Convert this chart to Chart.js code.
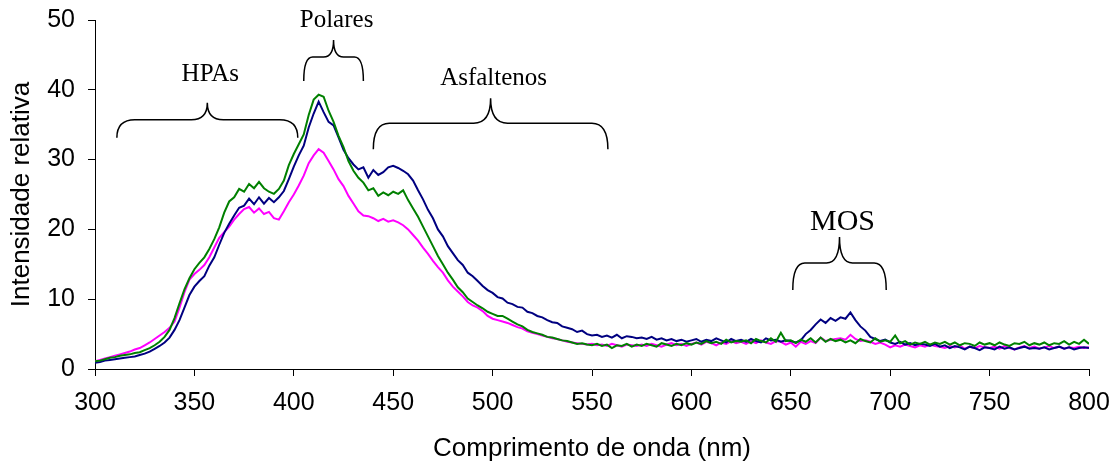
<!DOCTYPE html>
<html>
<head>
<meta charset="utf-8">
<script src="https://cdn.jsdelivr.net/npm/chart.js@4.4.0/dist/chart.umd.min.js"></script>
<style>
    body { margin: 0; background: #ffffff; }
    #spectraChart { display: block; }
</style>
</head>
<body>
<canvas id="spectraChart" width="1116" height="464"></canvas>
<script>
// wavelength grid: 300..800 nm, every 2.5 nm
const startNm = 300;
const stepNm = 2.5;

const navySeries = [
    0.9, 1.0, 1.2, 1.3, 1.4, 1.5, 1.6, 1.7, 1.8, 2.0,
    2.2, 2.5, 2.9, 3.3, 3.8, 4.5, 5.6, 7.0, 8.8, 10.6,
    11.8, 12.6, 13.3, 14.8, 16.0, 17.8, 19.5, 20.8, 22.0, 23.1,
    23.4, 24.4, 23.6, 24.6, 23.7, 24.5, 23.9, 24.6, 25.5, 27.2,
    29.0, 30.6, 32.0, 34.6, 36.6, 38.3, 36.8, 35.4, 34.9, 33.2,
    31.4, 30.2, 29.3, 28.6, 28.9, 27.4, 28.5, 27.8, 28.2, 28.9,
    29.1, 28.8, 28.4, 27.9, 27.0, 25.6, 24.3, 22.8, 21.6, 20.0,
    19.0, 17.6, 16.6, 15.6, 14.9, 13.8, 13.3, 12.6, 11.9, 11.3,
    10.9, 10.3, 10.1, 9.5, 9.3, 8.9, 8.8, 8.2, 8.0, 7.6,
    7.4, 7.0, 6.7, 6.6, 6.1, 5.9, 5.7, 5.3, 5.5, 5.0,
    4.8, 4.9, 4.6, 4.8, 4.5, 4.9, 4.4, 4.7, 4.6, 4.4,
    4.5, 4.3, 4.6, 4.2, 4.4, 4.1, 4.3, 4.0, 4.2, 3.9,
    4.1, 4.3, 3.9, 4.2, 4.0, 4.4, 4.1, 3.8, 4.3, 4.0,
    4.2, 3.9, 4.3, 4.0, 3.8, 4.4, 4.1, 4.2, 3.9, 4.1,
    4.0, 3.8, 4.1, 5.0, 5.6, 6.4, 7.1, 6.6, 7.3, 6.9,
    7.4, 7.2, 8.1, 7.0, 6.1, 5.5, 4.6, 4.3, 4.0, 4.2,
    3.8, 3.6, 3.9, 3.5, 3.7, 3.4, 3.6, 3.5, 3.3, 3.6,
    3.2, 3.4, 3.0, 3.3, 3.1, 2.8, 3.2, 3.0, 2.7, 3.1,
    3.0, 2.8, 3.2, 2.9, 3.1, 2.8, 3.0, 3.2, 2.9, 3.0,
    2.9, 3.1, 2.8, 3.0, 3.2, 2.9, 3.1, 2.8, 3.0, 3.1,
    3.0
];

const greenSeries = [
    1.1, 1.2, 1.4, 1.6, 1.7, 1.9, 2.0, 2.1, 2.3, 2.4,
    2.7, 3.0, 3.4, 3.9, 4.6, 5.6, 7.3, 9.4, 11.4, 13.0,
    14.3, 15.2, 16.0, 17.2, 18.6, 20.3, 22.4, 24.0, 24.6, 25.8,
    25.4, 26.5, 25.9, 26.8, 25.9, 25.4, 25.1, 25.8, 27.0, 29.2,
    30.8, 32.2, 33.6, 36.4, 38.6, 39.3, 39.0, 37.0, 35.4, 33.4,
    31.8, 29.8, 28.4, 27.4, 26.7, 25.6, 25.9, 24.8, 25.3, 24.9,
    25.4, 25.1, 25.6, 24.2, 23.0, 21.8, 20.4, 19.0, 17.6, 16.2,
    15.0, 13.8, 12.8, 11.7, 11.0, 10.1, 9.6, 9.1, 8.7, 8.2,
    7.9, 7.6, 7.6, 7.2, 6.8, 6.4, 6.1, 5.6, 5.3, 5.1,
    4.9, 4.6, 4.5, 4.3, 4.1, 4.0, 3.8, 3.6, 3.7, 3.5,
    3.4, 3.6, 3.3, 3.5, 3.0, 3.4, 3.3, 3.6, 3.2, 3.5,
    3.3, 3.6, 3.4, 3.2, 3.7, 3.5, 3.3, 3.6, 3.4, 3.7,
    3.5, 3.8, 3.6, 4.0, 3.7, 3.9, 3.6, 4.2, 3.8, 4.0,
    3.9, 4.1, 3.7, 4.3, 4.0, 3.8, 4.4, 3.9, 5.2, 4.0,
    4.1, 3.7, 4.2, 3.9, 4.4, 3.8, 4.5, 3.9, 4.3, 4.0,
    4.2, 3.8, 4.1, 3.7, 4.3, 4.0, 3.8, 4.4, 3.9, 4.1,
    3.9, 4.8, 3.7, 4.0, 3.5, 3.8, 3.6, 3.9, 3.5, 3.8,
    3.6, 3.9, 3.5, 3.8, 3.4, 3.7, 3.6, 3.3, 3.8, 3.5,
    3.7, 3.4, 3.8, 3.5, 3.3, 3.7, 3.6, 3.9, 3.4, 3.7,
    3.5, 3.8, 3.4, 3.7, 3.6, 4.0, 3.5, 3.9, 3.6, 4.2,
    3.6
];

const magentaSeries = [
    1.1, 1.3, 1.5, 1.7, 1.9, 2.1, 2.3, 2.5, 2.8, 3.0,
    3.4, 3.8, 4.3, 4.8, 5.3, 5.9, 6.8, 8.8, 11.0, 12.8,
    13.6, 14.2, 14.9, 16.0, 17.4, 18.8, 19.6, 20.4, 21.4, 22.2,
    22.9, 23.2, 22.4, 23.0, 22.2, 22.5, 21.6, 21.4, 22.6, 23.9,
    25.0, 26.3, 27.7, 29.5, 30.6, 31.5, 31.0, 29.8, 28.6, 27.2,
    26.2, 24.8, 23.7, 22.6, 22.0, 21.9, 21.6, 21.2, 21.5, 21.1,
    21.3, 21.0, 20.6, 20.0, 19.2, 18.4, 17.4, 16.5, 15.5, 14.6,
    13.8, 12.7, 11.8, 11.1, 10.4, 9.6, 9.1, 8.8, 8.3, 7.6,
    7.2, 7.0, 6.8, 6.6, 6.3, 6.0, 5.8, 5.4, 5.2, 5.0,
    4.8, 4.6, 4.4, 4.3, 4.1, 3.9, 3.8, 3.7, 3.6, 3.5,
    3.6, 3.4, 3.5, 3.3, 3.6, 3.4, 3.2, 3.5, 3.4, 3.3,
    3.5, 3.3, 3.6, 3.4, 3.2, 3.5, 3.7, 3.4, 3.6, 3.3,
    3.6, 3.8, 3.5, 3.9, 3.7, 3.4, 3.8, 3.6, 4.0, 3.7,
    3.9, 3.6, 4.0, 3.7, 4.1, 3.8, 3.6, 4.0, 3.9, 3.5,
    3.8, 3.2, 3.9, 3.6, 4.0, 3.7, 4.5, 4.0, 4.2, 4.3,
    4.4, 4.2, 4.9, 4.3, 4.0, 4.1, 3.9, 3.6, 3.8, 3.5,
    3.1, 3.4, 3.2, 3.5, 3.3, 3.1, 3.4, 3.2, 3.5, 3.3,
    3.2, 3.0, 3.3, 3.1, 3.4, 2.9, 3.2, 3.0, 3.3, 3.1,
    3.0, 3.2, 2.9, 3.3, 3.0, 2.8, 3.1, 3.3, 3.0, 3.2,
    2.9, 3.1, 3.3, 3.0, 3.2, 2.9, 3.1, 3.0, 3.2, 3.0,
    3.1
];

// region labels with curly braces (data units)
const braceLabels = ['HPAs', 'Polares', 'Asfaltenos', 'MOS'];
const braceFrom   = [311, 405, 440, 651];
const braceTo     = [402, 435, 558, 698];
const braceLevel  = [35.7, 44.7, 35.2, 15.2];

document.addEventListener("DOMContentLoaded", function() {

    const toPoints = function(series) {
        return series.map(function(v, i) {
            return { x: startNm + i * stepNm, y: v };
        });
    };

    // brace look, pixels: legs down, tip up, corner radius, tip radius, label gap, font size
    const braceStyle = [
        { down: 18, up: 17, r: 18, r2: 16, gap: 45, size: 25 },
        { down: 24, up: 17, r: 9,  r2: 10, gap: 37, size: 25 },
        { down: 26, up: 25, r: 16, r2: 17, gap: 45, size: 25 },
        { down: 27, up: 26, r: 12, r2: 13, gap: 41, size: 30 },
    ];

    const bracePlugin = {
        id: 'braces',
        afterDatasetsDraw: function(chart) {
            const ctx = chart.ctx;
            const xs = chart.scales.x;
            const ys = chart.scales.y;
            ctx.save();
            ctx.strokeStyle = '#000';
            ctx.lineWidth = 1.5;
            ctx.fillStyle = '#000';
            ctx.textAlign = 'center';
            ctx.textBaseline = 'middle';
            braceLabels.forEach(function(label, i) {
                const s = braceStyle[i];
                const x1 = xs.getPixelForValue(braceFrom[i]);
                const x2 = xs.getPixelForValue(braceTo[i]);
                const xc = (x1 + x2) / 2;
                const yh = ys.getPixelForValue(braceLevel[i]);
                ctx.beginPath();
                ctx.moveTo(x1, yh + s.down);
                ctx.quadraticCurveTo(x1, yh, x1 + s.r, yh);
                ctx.lineTo(xc - s.r2, yh);
                ctx.quadraticCurveTo(xc, yh, xc, yh - s.up);
                ctx.quadraticCurveTo(xc, yh, xc + s.r2, yh);
                ctx.lineTo(x2 - s.r, yh);
                ctx.quadraticCurveTo(x2, yh, x2, yh + s.down);
                ctx.stroke();
                ctx.font = s.size + 'px "Liberation Serif", "Times New Roman", serif';
                ctx.fillText(label, xc + 3, yh - s.gap);
            });
            ctx.restore();
        }
    };

    const ctxSpectra = document.getElementById('spectraChart').getContext('2d');

    const spectraChart = new Chart(ctxSpectra, {
        type: 'line',
        data: {
            datasets: [
                {
                    data: toPoints(greenSeries),
                    borderColor: '#008000',
                    borderWidth: 2,
                    pointRadius: 0,
                },
                {
                    data: toPoints(navySeries),
                    borderColor: '#000080',
                    borderWidth: 2,
                    pointRadius: 0,
                },
                {
                    data: toPoints(magentaSeries),
                    borderColor: '#FF00FF',
                    borderWidth: 2,
                    pointRadius: 0,
                },
            ]
        },
        options: {
            responsive: false,
            animation: false,
            layout: {
                padding: { top: 20, right: 27, left: 0, bottom: 0 }
            },
            scales: {
                x: {
                    type: 'linear',
                    min: 300,
                    max: 800,
                    afterFit: function(scale) {
                        scale.height = 95;
                        scale.paddingLeft = 0;
                        scale.paddingRight = 0;
                    },
                    ticks: {
                        stepSize: 50,
                        color: '#000',
                        padding: 12,
                        maxRotation: 0,
                        font: { family: '"Liberation Sans", Arial, sans-serif', size: 25 }
                    },
                    grid: {
                        drawOnChartArea: false,
                        tickLength: 7,
                        color: '#000',
                    },
                    border: { color: '#000', width: 1 },
                    title: {
                        display: true,
                        text: 'Comprimento de onda (nm)',
                        color: '#000',
                        padding: { top: 0, bottom: 0 },
                        font: { family: '"Liberation Sans", Arial, sans-serif', size: 26 }
                    }
                },
                y: {
                    min: 0,
                    max: 50,
                    afterFit: function(scale) {
                        scale.width = 95;
                        scale.paddingTop = 0;
                        scale.paddingBottom = 0;
                    },
                    ticks: {
                        stepSize: 10,
                        color: '#000',
                        padding: 13,
                        font: { family: '"Liberation Sans", Arial, sans-serif', size: 25 }
                    },
                    grid: {
                        drawOnChartArea: false,
                        tickLength: 7,
                        color: '#000',
                    },
                    border: { color: '#000', width: 1 },
                    title: {
                        display: true,
                        text: 'Intensidade relativa',
                        color: '#000',
                        padding: { top: 6, bottom: 0 },
                        font: { family: '"Liberation Sans", Arial, sans-serif', size: 26 }
                    }
                }
            },
            plugins: {
                legend: {
                    display: false,
                },
                tooltip: {
                    enabled: false,
                },
            },
        },
        plugins: [bracePlugin],
    });

});
</script>
</body>
</html>
